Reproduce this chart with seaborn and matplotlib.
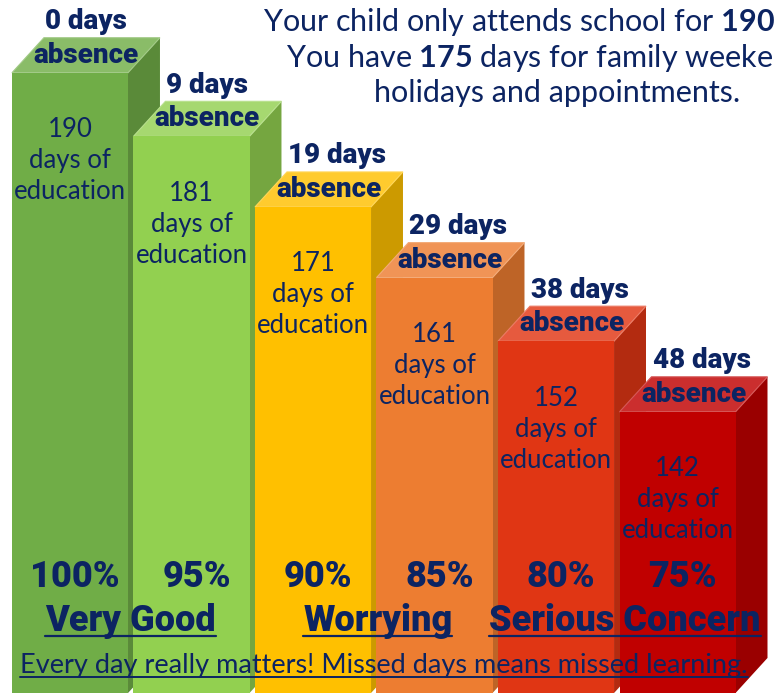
import numpy as np
import pandas as pd
import seaborn as sns
import matplotlib.pyplot as plt
import matplotlib.colors as mcolors
from matplotlib.patches import Polygon
from matplotlib.lines import Line2D

# values
absence_days = [0, 9, 19, 29, 38, 48]
education_days = [190, 181, 171, 161, 152, 142]
attendance = ['100%', '95%', '90%', '85%', '80%', '75%']
bands = ['Very Good', 'Worrying', 'Serious Concern']
bar_colors = ['#70AD47', '#92D050', '#FFC000', '#ED7D31', '#E03614', '#C00000']

navy = '#0C2462'
bold_font = ['Roboto', 'DejaVu Sans']
hand_font = ['Lato', 'DejaVu Sans']

sns.set_theme(style='white')
plt.rcParams['font.family'] = hand_font
plt.rcParams['mathtext.fontset'] = 'custom'
plt.rcParams['mathtext.rm'] = 'Lato'
plt.rcParams['mathtext.bf'] = 'Lato:bold'

df = pd.DataFrame({'bar': [str(a) for a in absence_days], 'days': education_days})

fig = plt.figure(figsize=(7.74, 6.93), dpi=100)
ax = fig.add_axes([0, 0, 1, 1])
sns.barplot(data=df, x='bar', y='days', hue='bar', palette=bar_colors,
            saturation=1, width=0.955, legend=False, ax=ax)
ax.set_xlim(-0.576, 5.794)
ax.set_ylim(102.2, 200.3)
ax.axis('off')

# depth of the fake 3d bars
dx, dy = 0.263, 4.96
base = ax.get_ylim()[0]


def tint(c, f):
    r = np.array(mcolors.to_rgb(c))
    return tuple(r + (1 - r) * f)


def dark(c, f):
    return tuple(np.array(mcolors.to_rgb(c)) * f)


centers = []
for i, p in enumerate(ax.patches):
    x0, w, top = p.get_x(), p.get_width(), p.get_height()
    x1 = x0 + w
    xc = x0 + w / 2
    centers.append(xc)
    col = bar_colors[i]
    z = 10 + 3 * i
    p.set_zorder(z + 2)
    p.set_edgecolor('none')
    ax.add_patch(Polygon([(x1, base), (x1, top), (x1 + dx, top + dy), (x1 + dx, base + dy)],
                         closed=True, facecolor=dark(col, 0.8), edgecolor='none', zorder=z))
    ax.add_patch(Polygon([(x0, top), (x1, top), (x1 + dx, top + dy), (x0 + dx, top + dy)],
                         closed=True, facecolor=tint(col, 0.18), edgecolor=tint(col, 0.35),
                         lw=0.8, zorder=z + 1))

    ax.annotate(f'{absence_days[i]} days', (x0, top), xytext=(33, 51), textcoords='offset pixels',
                ha='left', va='center', fontsize=20, fontweight='heavy', family=bold_font,
                color=navy, zorder=60)
    ax.annotate('absence', (xc + dx / 2, top + dy / 2), ha='center', va='center', fontsize=20,
                fontweight='heavy', family=bold_font, color=navy, zorder=60)
    for j, line in enumerate([str(education_days[i]), 'days of', 'education']):
        ax.annotate(line, (xc, top), xytext=(0, -57 - 31 * j), textcoords='offset pixels',
                    ha='center', va='center', fontsize=18.5, color=navy, zorder=60)
    ax.annotate(attendance[i], (xc, base), xytext=(5, 116), textcoords='offset pixels',
                ha='center', va='center', fontsize=26, fontweight='heavy', family=bold_font,
                color=navy, zorder=60)

band_texts = []
for k, name in enumerate(bands):
    xm = (centers[2 * k] + centers[2 * k + 1]) / 2
    t = ax.annotate(name, (xm, base), xytext=(4 * k, 62), textcoords='offset pixels',
                    ha='center', va='baseline', fontsize=26, fontweight='heavy',
                    family=bold_font, color=navy, zorder=60)
    band_texts.append(t)

foot = fig.text(0.496, 20 / 693, 'Every day really matters! Missed days means missed learning.',
                ha='center', va='baseline', fontsize=19.5, color=navy, zorder=60)

# the first two lines run past the right edge, as in the original graphic
top_lines = ['Your child only attends school for $\\mathbf{190}$ days.',
             'You have $\\mathbf{175}$ days for family weekends,',
             'holidays and appointments.']
for j, line in enumerate(top_lines):
    fig.text(557 / 774, 1 - (22 + 35.5 * j) / 693, line, ha='center', va='center',
             fontsize=22, color=navy, zorder=60)

# underlines under the band labels and the footer
fig.canvas.draw()
renderer = fig.canvas.get_renderer()
W, H = fig.get_size_inches() * fig.dpi
for t in band_texts:
    bb = t.get_window_extent(renderer)
    y = (ax.transData.transform(t.xy)[1] + 62 - 5) / H
    fig.add_artist(Line2D([bb.x0 / W, bb.x1 / W], [y, y], color=navy, lw=1.6, zorder=60))
bb = foot.get_window_extent(renderer)
y = (20 - 4) / H
fig.add_artist(Line2D([bb.x0 / W, bb.x1 / W], [y, y], color=navy, lw=1.4, zorder=60))

fig.savefig('out.png', dpi=100)
